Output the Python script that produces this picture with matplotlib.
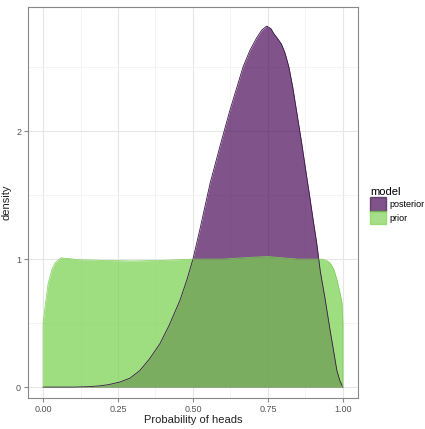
import matplotlib
matplotlib.use("Agg")
import matplotlib.pyplot as plt
from matplotlib.patches import Patch
from matplotlib.ticker import MultipleLocator

# posterior density
post_x = [0.00, 0.10, 0.15, 0.19, 0.22, 0.257, 0.29, 0.323, 0.355, 0.39, 0.42, 0.457,
          0.48, 0.50, 0.523, 0.557, 0.59, 0.623, 0.667, 0.69, 0.713, 0.73, 0.746,
          0.76, 0.77, 0.78, 0.795, 0.807, 0.82, 0.833, 0.848, 0.863, 0.877, 0.89,
          0.90, 0.913, 0.925, 0.94, 0.957, 0.97, 0.98, 0.99, 1.00]
post_y = [0.0, 0.0, 0.003, 0.01, 0.02, 0.04, 0.07, 0.13, 0.22, 0.34, 0.48, 0.68,
          0.84, 1.00, 1.23, 1.59, 1.88, 2.16, 2.50, 2.63, 2.73, 2.79, 2.82,
          2.80, 2.76, 2.73, 2.68, 2.61, 2.50, 2.34, 2.12, 1.90, 1.68, 1.48,
          1.32, 1.12, 0.90, 0.70, 0.45, 0.27, 0.13, 0.05, 0.0]

# prior density
prior_x = [0.00, 0.008, 0.017, 0.03, 0.04, 0.06, 0.08, 0.12, 0.2, 0.3, 0.4, 0.5,
           0.6, 0.7, 0.75, 0.8, 0.85, 0.9, 0.93, 0.945, 0.957, 0.97, 0.98, 0.99,
           0.997, 1.00]
prior_y = [0.50, 0.65, 0.81, 0.92, 0.97, 1.01, 1.005, 0.995, 0.99, 0.985, 0.99, 1.0,
           1.0, 1.015, 1.02, 1.01, 1.0, 1.0, 1.0, 0.99, 0.97, 0.92, 0.84, 0.74,
           0.66, 0.50]

models = ["posterior", "prior"]
colors = {"posterior": "#440154", "prior": "#7AD151"}
edges = {"posterior": "#3a1548", "prior": "#7AD151"}
alpha = 0.68

plt.rcParams["font.family"] = ["Liberation Sans", "DejaVu Sans"]

fig = plt.figure(figsize=(4.25, 4.29), dpi=100)
ax = fig.add_axes([0.066, 0.072, 0.776, 0.912])

# grille facon theme_bw
ax.xaxis.set_major_locator(MultipleLocator(0.25))
ax.xaxis.set_minor_locator(MultipleLocator(0.125))
ax.yaxis.set_major_locator(MultipleLocator(1))
ax.yaxis.set_minor_locator(MultipleLocator(0.5))
ax.grid(which="major", color="#e6e6e6", linewidth=0.8)
ax.grid(which="minor", color="#f0f0f0", linewidth=0.5)
ax.set_axisbelow(True)

ax.fill_between(post_x, 0, post_y, color=colors["posterior"], alpha=alpha, linewidth=0)
ax.plot(post_x, post_y, color=edges["posterior"], linewidth=0.6)
ax.fill_between(prior_x, 0, prior_y, color=colors["prior"], alpha=0.72, linewidth=0)
ax.plot([prior_x[0]] + prior_x + [prior_x[-1]], [0] + prior_y + [0],
        color=edges["prior"], linewidth=0.5)

ax.set_xlim(-0.05, 1.05)
ax.set_ylim(-0.086, 2.97)
ax.set_xticks([0, 0.25, 0.5, 0.75, 1.0])
ax.set_xticklabels(["0.00", "0.25", "0.50", "0.75", "1.00"])
ax.set_yticks([0, 1, 2])

for s in ax.spines.values():
    s.set_color("#888888")
    s.set_linewidth(0.8)
ax.tick_params(which="major", length=3, color="#888888", labelsize=6.5,
               labelcolor="#555555", pad=2)
ax.tick_params(which="minor", length=0)

ax.set_xlabel("Probability of heads", fontsize=8, color="#222222", labelpad=1)
ax.set_ylabel("density", fontsize=8, color="#222222", labelpad=3)

handles = [Patch(facecolor=colors[m], edgecolor=edges[m], alpha=alpha, label=m)
           for m in models]
leg = fig.legend(handles=handles, title="model", loc="upper left",
                 bbox_to_anchor=(0.862, 0.573), frameon=False, fontsize=6.5,
                 title_fontsize=8, handlelength=1.8, handleheight=1.9,
                 handletextpad=0.4, labelspacing=0.05, borderaxespad=0)
leg._legend_box.align = "left"

fig.savefig("out.png", dpi=100)
